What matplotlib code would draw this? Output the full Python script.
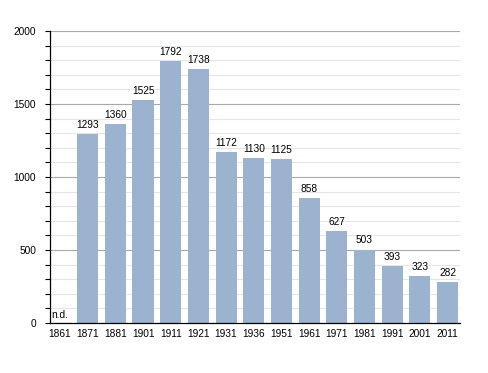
import numpy as np
from matplotlib import pyplot as plt
from matplotlib.ticker import MultipleLocator

plt.rcParams['font.family'] = ['Liberation Sans', 'DejaVu Sans']

years = ["1861", "1871", "1881", "1901", "1911", "1921", "1931", "1936",
         "1951", "1961", "1971", "1981", "1991", "2001", "2011"]
population = [None, 1293, 1360, 1525, 1792, 1738, 1172, 1130,
              1125, 858, 627, 503, 393, 323, 282]

bar_color = "#9bb3cf"

fig = plt.figure(figsize=(4.88, 3.73), dpi=100)
# axis spans x 50..460 px, y 31..323 px
ax = fig.add_axes([50 / 488, 50 / 373, 410 / 488, 292 / 373])

x = np.arange(len(years))
vals = [v if v is not None else 0 for v in population]
ax.bar(x, vals, width=0.76, color=bar_color, zorder=3)

for xi, v in zip(x, population):
    if v is None:
        ax.text(xi - 0.33, 22, "n.d.", fontsize=7.3, ha="left", va="bottom",
                zorder=4)
    else:
        ax.text(xi, v + 28, str(v), fontsize=7.3, ha="center", va="bottom",
                zorder=4)

ax.set_xlim(-0.36, len(years) - 0.55)
ax.set_ylim(0, 2000)
ax.set_xticks(x)
ax.set_xticklabels(years, fontsize=7.3)
ax.yaxis.set_major_locator(MultipleLocator(500))
ax.yaxis.set_minor_locator(MultipleLocator(100))
ax.tick_params(axis="y", labelsize=7.3, length=3.6, width=0.8, pad=6.5)
ax.tick_params(axis="y", which="minor", length=3.6, width=0.8)
ax.tick_params(axis="x", length=0, pad=4)

ax.grid(True, axis="y", which="major", color="#a8a8a8", linewidth=0.8, zorder=0)
ax.grid(True, axis="y", which="minor", color="#e6e6e6", linewidth=0.8, zorder=0)

for side in ["top", "right"]:
    ax.spines[side].set_visible(False)
ax.spines["left"].set_linewidth(0.9)
ax.spines["bottom"].set_linewidth(0.9)
ax.spines["bottom"].set_zorder(5)

fig.savefig("out.png", dpi=100)
